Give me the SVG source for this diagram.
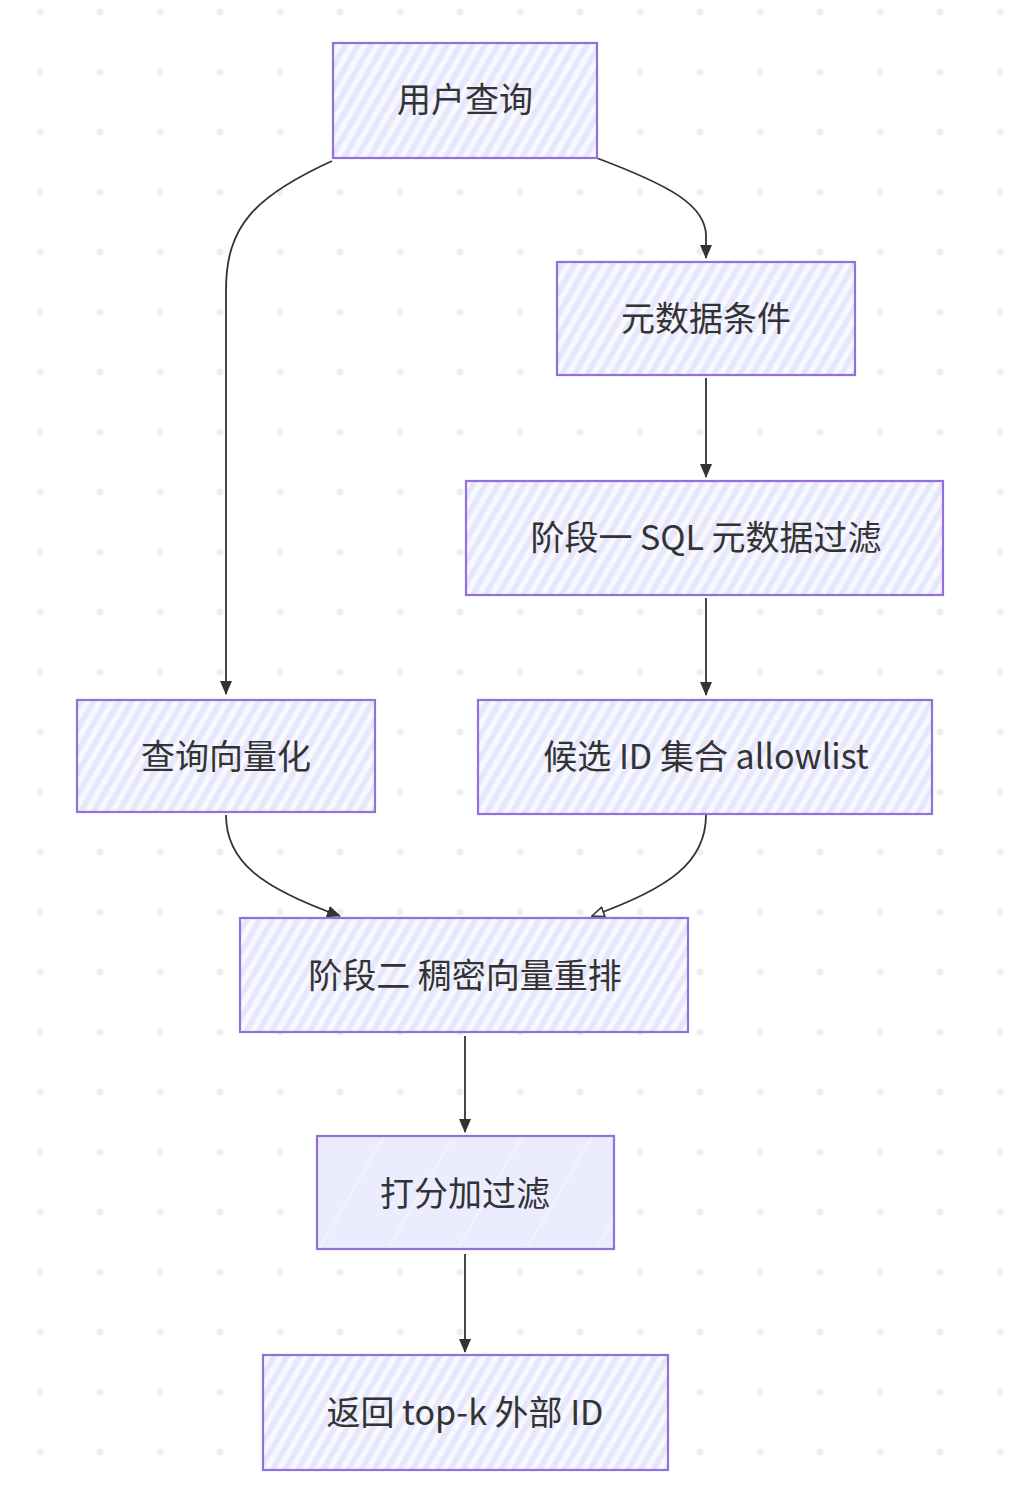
<svg xmlns="http://www.w3.org/2000/svg" width="1016" height="1504" viewBox="0 0 1016 1504">
<defs>
<pattern id="dots" x="0" y="0" width="60" height="60" patternUnits="userSpaceOnUse">
<circle cx="40" cy="12" r="3.5" fill="#efefef"/>
</pattern>
<pattern id="hatch" width="11" height="11" patternUnits="userSpaceOnUse" patternTransform="rotate(30)">
<rect width="11" height="11" fill="#f8f8ff"/>
<rect width="5.5" height="11" fill="#e6e6fc"/>
</pattern>
<pattern id="hatchlight" width="60" height="60" patternUnits="userSpaceOnUse" patternTransform="rotate(30)">
<rect width="60" height="60" fill="#ececff"/>
<rect width="1.2" height="60" fill="#f6f6ff"/>
</pattern>
<marker id="arr" viewBox="0 0 14 12" refX="13" refY="6" markerWidth="14" markerHeight="12" markerUnits="userSpaceOnUse" orient="auto">
<path d="M0,0 L14,6 L0,12 Z" fill="#333"/>
</marker>
<marker id="arrOpen" viewBox="0 0 14 12" refX="13" refY="6" markerWidth="14" markerHeight="12" markerUnits="userSpaceOnUse" orient="auto">
<path d="M1,1 L13,6 L1,11 Z" fill="#fff" stroke="#333" stroke-width="1.6"/>
</marker>
</defs>
<style>
.node rect{stroke:#9370db;stroke-width:2.2;fill:url(#hatch)}
.node.solid rect{fill:url(#hatchlight)}
.node text{font-family:"Noto Sans CJK SC","Noto Sans",sans-serif;font-size:34px;fill:#333;text-anchor:middle;dominant-baseline:central}
.edge{fill:none;stroke:#333;stroke-width:1.8}
</style>
<rect width="1016" height="1504" fill="#fff"/>
<rect width="1016" height="1504" fill="url(#dots)"/>

<g id="connectors">
<path class="edge" d="M332,161 C255,196 226,226 226,290 L226,694" marker-end="url(#arr)"/>
<path class="edge" d="M594,157 C672,186 706,206 706,236 L706,258" marker-end="url(#arr)"/>
<path class="edge" d="M706,378 L706,477" marker-end="url(#arr)"/>
<path class="edge" d="M706,598 L706,695" marker-end="url(#arr)"/>
<path class="edge" d="M226,815 C226,862 262,888 340,916" marker-end="url(#arr)"/>
<path class="edge" d="M706,815 C706,862 670,888 592,916" marker-end="url(#arrOpen)"/>
<path class="edge" d="M465,1036 L465,1132" marker-end="url(#arr)"/>
<path class="edge" d="M465,1254 L465,1352" marker-end="url(#arr)"/>
</g>

<g id="n1" class="node"><rect x="333" y="43" width="264" height="115"/><text x="465" y="97">用户查询</text></g>
<g id="n2" class="node"><rect x="557" y="262" width="298" height="113"/><text x="706" y="316">元数据条件</text></g>
<g id="n3" class="node"><rect x="466" y="481" width="477" height="114"/><text x="706" y="535">阶段一 SQL 元数据过滤</text></g>
<g id="n4" class="node"><rect x="77" y="700" width="298" height="112"/><text x="226" y="754">查询向量化</text></g>
<g id="n5" class="node"><rect x="478" y="700" width="454" height="114"/><text x="706" y="754">候选 ID 集合 allowlist</text></g>
<g id="n6" class="node"><rect x="240" y="918" width="448" height="114"/><text x="465" y="973">阶段二 稠密向量重排</text></g>
<g id="n7" class="node solid"><rect x="317" y="1136" width="297" height="113"/><text x="465" y="1191">打分加过滤</text></g>
<g id="n8" class="node"><rect x="263" y="1355" width="405" height="115"/><text x="465" y="1410">返回 top-k 外部 ID</text></g>
</svg>
